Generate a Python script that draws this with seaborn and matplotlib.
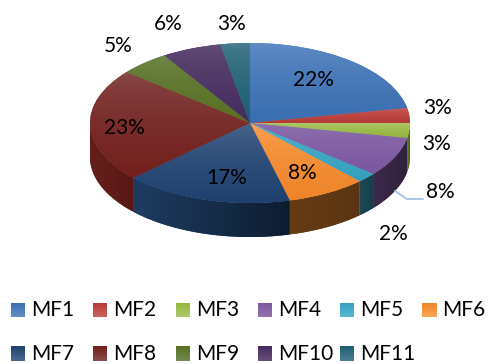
import numpy as np
import matplotlib
matplotlib.use("Agg")
import matplotlib.pyplot as plt
from matplotlib.colors import to_rgb
from matplotlib.patches import Polygon
import seaborn as sns

categories = ["MF1", "MF2", "MF3", "MF4", "MF5", "MF6", "MF7", "MF8", "MF9", "MF10", "MF11"]
shares = [22, 3, 3, 8, 2, 8, 17, 23, 5, 6, 3]

# face shading: light end / saturated end of each slice
face_light = ["#6590c8", "#cc6360", "#b0cb70", "#9275b0", "#5cb8d0", "#fda558",
              "#4e6a90", "#8a4d4d", "#738a50", "#675078", "#4c7f90"]
face_deep = ["#3a6eb0", "#b53a36", "#93b53e", "#7a579f", "#35a0bd", "#ee8428",
             "#1f406e", "#721f1c", "#586f22", "#452c5f", "#1c5f72"]
# rim shading: left end / right end of each slice
rim_left = ["#2a4f80", "#842a28", "#5f7a25", "#3c2a4c", "#1b4a56", "#663c14",
            "#1e3c62", "#641f1b", "#40521a", "#33204a", "#154655"]
rim_right = ["#2a4f80", "#842a28", "#4d6420", "#30213c", "#163d48", "#5a3412",
             "#0d1d30", "#591815", "#40521a", "#33204a", "#154655"]

# annotation text and where it sits, in figure pixels
label_text = ["22%", "3%", "3%", "8%", "2%", "8%", "17%", "23%", "5%", "6%", "3%"]
label_x = [313, 438, 437, 440, 393, 302, 227, 124, 118, 168, 232]
label_y = [80, 108, 144, 192, 234, 173, 178, 128, 46, 24, 24]

legend_x = [11, 93, 176, 258, 340, 422, 11, 93, 176, 258, 340]
legend_y = [310, 310, 310, 310, 310, 310, 354, 354, 354, 354, 354]

W, H = 488, 364
CX, CY, RX, RY, DEPTH = 250.0, 123.0, 160.0, 80.0, 34.0

sns.set_theme(style="white")
plt.rcParams["font.family"] = ["Lato", "DejaVu Sans"]

fig = plt.figure(figsize=(W / 100, H / 100), dpi=100)
ax = fig.add_axes([0, 0, 1, 1])

wedges, _ = ax.pie(shares, startangle=90, counterclock=False, radius=1.0,
                   colors=sns.color_palette(face_deep), wedgeprops={"linewidth": 0})
ax.set_aspect("auto")


def to_data(px, py):
    return (px - CX) / RX, (CY - py) / RY


def gradient(c0, c1, horizontal=False, steps=128, gamma=1.0):
    a, b = np.array(to_rgb(c0)), np.array(to_rgb(c1))
    t = np.linspace(0, 1, steps)[:, None] ** gamma
    img = (a * (1 - t) + b * t)[None, :, :] if horizontal else (a * (1 - t) + b * t)[:, None, :]
    return img


def paint(patch, c0, c1, extent, horizontal=False, z=2, gamma=1.0):
    im = ax.imshow(gradient(c0, c1, horizontal, gamma=gamma), extent=extent, origin="upper",
                   aspect="auto", interpolation="bilinear", zorder=z)
    im.set_clip_path(patch)


depth = DEPTH / RY
edges = np.cumsum([0] + shares) / sum(shares) * 360.0

# rim along the front half of the disc
for i in range(len(shares)):
    a0, a1 = max(edges[i], 90.0), min(edges[i + 1], 270.0)
    if a1 <= a0:
        continue
    th = np.radians(np.linspace(a0, a1, 80))
    xs, ys = np.sin(th), np.cos(th)
    outline = np.vstack([np.column_stack([xs, ys]),
                         np.column_stack([xs[::-1], ys[::-1] - depth])])
    rim = Polygon(outline, closed=True, facecolor=rim_left[i], edgecolor="none", zorder=1)
    ax.add_patch(rim)
    paint(rim, rim_left[i], rim_right[i],
          (xs.min(), xs.max(), ys.min() - depth, ys.max()), horizontal=True, z=1.5)

# top face of every slice, reaching its saturated colour early
for i, w in enumerate(wedges):
    bb = w.get_path().get_extents(w.get_patch_transform())
    w.set_zorder(2)
    paint(w, face_light[i], face_deep[i], (bb.x0, bb.x1, bb.y0, bb.y1), z=3, gamma=0.55)

# leader for the MF4 label
lx, ly = zip(*[to_data(395, 191), to_data(407, 199), to_data(423, 199)])
ax.plot(lx, ly, color="#a9c6ea", lw=1.5, zorder=4)

for s, px, py in zip(label_text, label_x, label_y):
    x, y = to_data(px, py)
    ax.text(x, y, s, ha="center", va="center", fontsize=15, color="black", zorder=5)

# legend swatches and names on a fixed two-row grid
for i, name in enumerate(categories):
    x0, y1 = to_data(legend_x[i], legend_y[i] + 7)
    x1, y0 = to_data(legend_x[i] + 14, legend_y[i] - 7)
    ax.imshow(gradient(face_light[i], face_deep[i]), extent=(x0, x1, y0, y1), origin="upper",
              aspect="auto", interpolation="bilinear", zorder=3)
    x, y = to_data(legend_x[i] + 20, legend_y[i])
    ax.text(x, y, name, ha="left", va="center", fontsize=15, color="black", zorder=5)

ax.axis("off")
ax.set_xlim((0 - CX) / RX, (W - CX) / RX)
ax.set_ylim((CY - H) / RY, CY / RY)

fig.savefig("out.png", dpi=100, facecolor="white")
